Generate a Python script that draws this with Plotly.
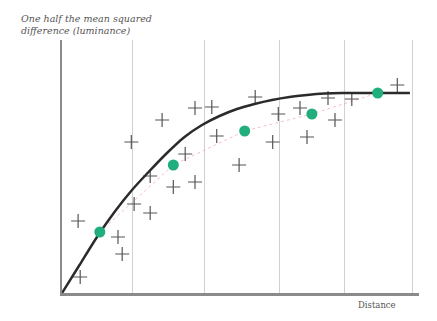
import plotly.graph_objects as go

# Individual pair differences (distance, half squared difference)
pair_distance = [0.23, 0.26, 0.80, 0.86, 1.03, 0.99, 1.26, 1.43, 1.26, 1.59,
                 1.90, 1.76, 1.90, 2.14, 2.21, 2.53, 2.76, 3.09, 3.01, 3.40,
                 3.50, 3.80, 4.14, 3.90, 4.79]
pair_semivar = [0.36, 0.08, 0.28, 0.195, 0.445, 0.755, 0.40, 0.865, 0.585, 0.53,
                0.555, 0.695, 0.925, 0.93, 0.785, 0.64, 0.98, 0.895, 0.755, 0.925,
                0.78, 0.975, 0.97, 0.865, 1.04]

# Binned averages (empirical semivariogram)
bin_distance = [0.54, 1.59, 2.61, 3.57, 4.51]
bin_semivar = [0.305, 0.64, 0.81, 0.895, 1.0]

# Fitted model curve
model_distance = [0.0, 0.25, 0.5, 0.75, 1.0, 1.25, 1.5, 1.75, 2.0, 2.25, 2.5,
                  2.75, 3.0, 3.25, 3.5, 3.75, 4.0, 4.5, 4.97]
model_semivar = [0.0, 0.14, 0.28, 0.405, 0.515, 0.61, 0.70, 0.78, 0.84, 0.885,
                 0.92, 0.945, 0.965, 0.98, 0.99, 0.997, 1.0, 1.0, 1.0]

# Distance gridlines
grid_distance = [1.01, 2.04, 3.1, 4.04, 5.0]

fig = go.Figure()

fig.add_trace(go.Scatter(
    x=bin_distance, y=bin_semivar, mode="lines",
    line=dict(color="rgba(235,140,160,0.55)", width=1, dash="dot"),
    hoverinfo="skip", showlegend=False))

fig.add_trace(go.Scatter(
    x=pair_distance, y=pair_semivar, mode="markers",
    marker=dict(symbol="cross-thin", size=10,
                line=dict(color="#555555", width=1.2)),
    showlegend=False))

fig.add_trace(go.Scatter(
    x=model_distance, y=model_semivar, mode="lines",
    line=dict(color="#2b2b2b", width=2.5, shape="spline", smoothing=0.6),
    showlegend=False))

fig.add_trace(go.Scatter(
    x=bin_distance, y=bin_semivar, mode="markers",
    marker=dict(symbol="circle", size=11, color="#1fae7c"),
    showlegend=False))

fig.update_xaxes(
    range=[0, 5.1], tickvals=grid_distance, showticklabels=False, ticks="",
    showgrid=True, gridcolor="#d0d0d0", gridwidth=1, zeroline=False,
    showline=True, linecolor="#8a8a8a", linewidth=2.5)
fig.update_yaxes(
    range=[0, 1.265], showticklabels=False, ticks="", showgrid=False,
    zeroline=False, showline=True, linecolor="#8a8a8a", linewidth=2)

fig.add_annotation(
    text="<i>One half the mean squared<br>difference (luminance)</i>",
    xref="paper", yref="paper", x=-0.12, y=1.0, yshift=2,
    xanchor="left", yanchor="bottom", align="left", showarrow=False,
    font=dict(family="DejaVu Serif", size=9.5, color="#555555"))
fig.add_annotation(
    text="Distance", xref="paper", yref="paper", x=0.94, y=0, yshift=-5,
    xanchor="right", yanchor="top", showarrow=False,
    font=dict(family="DejaVu Serif", size=8.5, color="#555555"))

fig.update_layout(
    width=437, height=321,
    margin=dict(l=62, r=18, t=40, b=28),
    paper_bgcolor="white", plot_bgcolor="white")

fig.write_html("out.html")
